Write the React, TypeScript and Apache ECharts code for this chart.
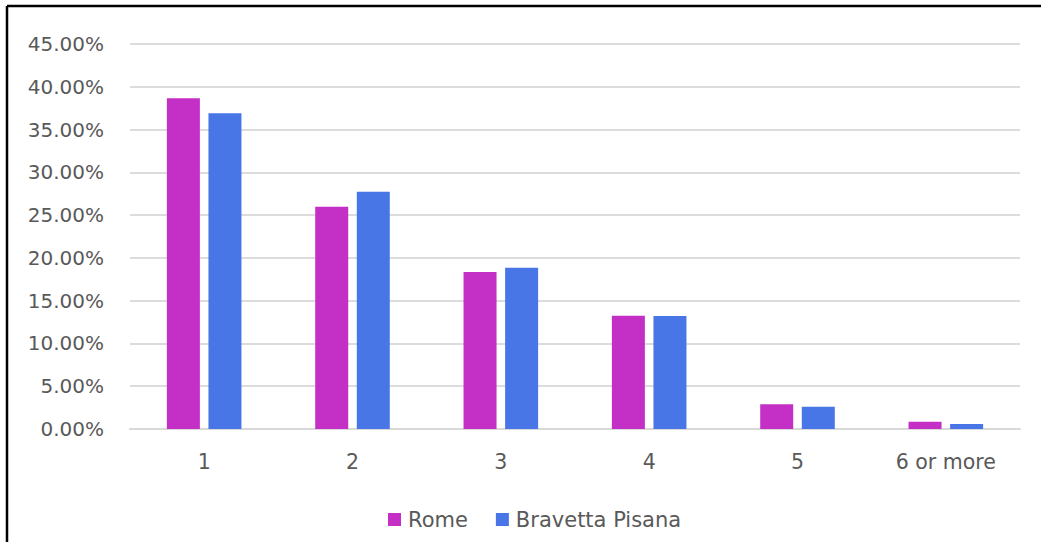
import React, { useEffect, useRef } from "react";
import * as echarts from "echarts";

const categories = ["1", "2", "3", "4", "5", "6 or more"];
const romeValues = [38.65, 25.98, 18.35, 13.25, 2.89, 0.85];
const bravettaValues = [36.9, 27.74, 18.85, 13.2, 2.6, 0.58];
const seriesNames = ["Rome", "Bravetta Pisana"];

const TEXT = "#595959";
const FONT = "DejaVu Sans";

export default function App() {
  const ref = useRef<HTMLDivElement>(null);

  useEffect(() => {
    document.body.style.margin = "0";
    const chart = echarts.init(ref.current!, null, { renderer: "svg" });
    chart.setOption({
      animation: false,
      backgroundColor: "#ffffff",
      grid: { left: 130, right: 21, top: 44, bottom: 113, containLabel: false },
      legend: {
        data: seriesNames,
        left: 383,
        top: 504,
        icon: "rect",
        itemWidth: 13,
        itemHeight: 13,
        itemGap: 28,
        textStyle: { color: TEXT, fontFamily: FONT, fontSize: 21, padding: [0, 0, 0, 2] },
      },
      xAxis: {
        type: "category",
        data: categories,
        axisTick: { show: false },
        axisLine: { lineStyle: { color: "#d9d9d9", width: 2 } },
        axisLabel: { color: TEXT, fontFamily: FONT, fontSize: 20.5, margin: 22 },
      },
      yAxis: {
        type: "value",
        min: 0,
        max: 45,
        interval: 5,
        axisLine: { show: false },
        axisTick: { show: false },
        splitLine: { lineStyle: { color: "#dcdcdc", width: 2 } },
        axisLabel: {
          color: TEXT,
          fontFamily: FONT,
          fontSize: 20,
          margin: 26,
          formatter: (v: number) => v.toFixed(2) + "%",
        },
      },
      series: [
        {
          name: seriesNames[0],
          type: "bar",
          data: romeValues,
          barWidth: 33,
          barGap: "26%",
          itemStyle: { color: "#C42FC5" },
        },
        {
          name: seriesNames[1],
          type: "bar",
          data: bravettaValues,
          barWidth: 33,
          barGap: "26%",
          itemStyle: { color: "#4876E6" },
        },
      ],
      graphic: [
        {
          type: "line",
          shape: { x1: 7, y1: 6, x2: 1041, y2: 6 },
          style: { stroke: "#000", lineWidth: 2.5 },
        },
        {
          type: "line",
          shape: { x1: 7, y1: 6, x2: 7, y2: 542 },
          style: { stroke: "#000", lineWidth: 2.5 },
        },
      ],
    });
    return () => chart.dispose();
  }, []);

  return <div ref={ref} style={{ width: 1041, height: 542 }} />;
}
